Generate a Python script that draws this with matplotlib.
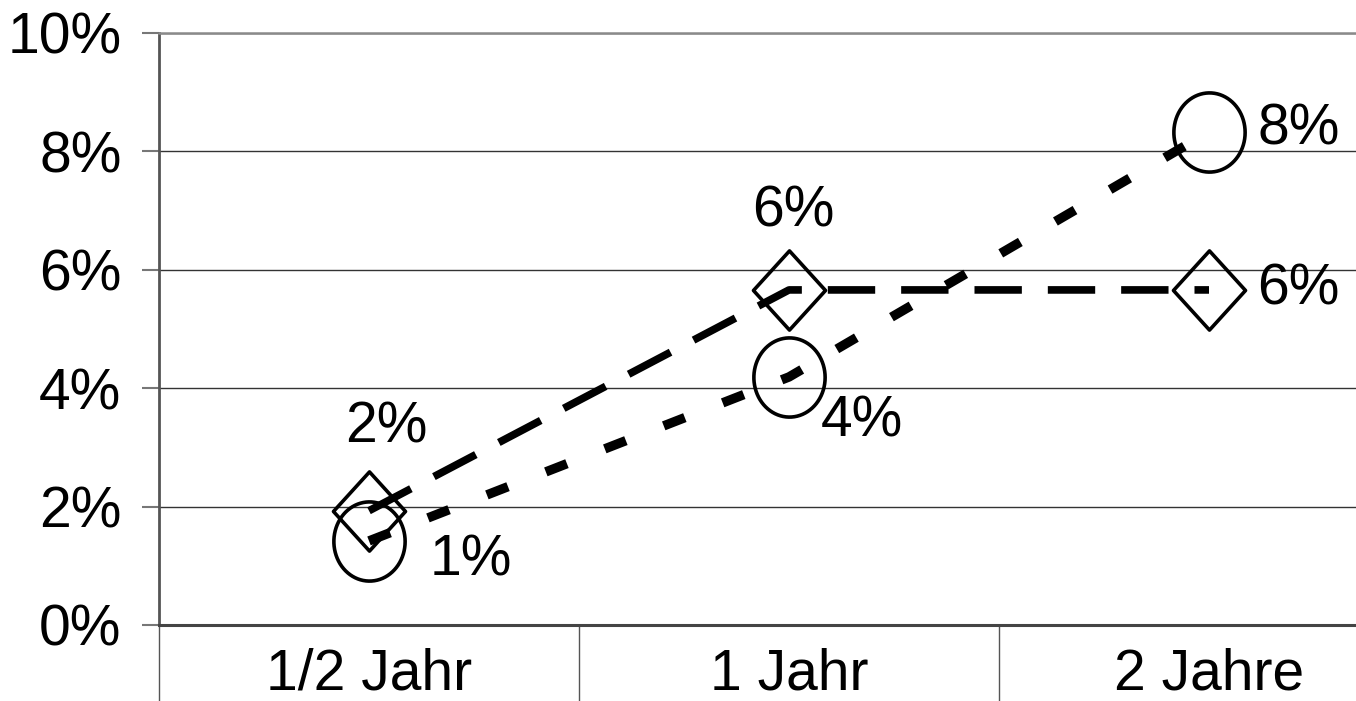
import numpy as np
import matplotlib.pyplot as plt
from matplotlib.path import Path
from matplotlib.ticker import FixedLocator

plt.rcParams['font.family'] = ['Liberation Sans', 'DejaVu Sans']

# categories and the two series (percent)
categories = ['1/2 Jahr', '1 Jahr', '2 Jahre']
diamond_vals = [1.93, 5.66, 5.66]
circle_vals = [1.42, 4.19, 8.33]

# data label offsets in pixels (dx, dy)
diamond_offsets = [(17, 83), (4, 78), (89, 0)]
circle_offsets = [(102, -20), (73, -45), (90, 2)]

# slightly tall markers: diamond and ellipse outlines
diamond_marker = Path([(0, 1), (0.91, 0), (0, -1), (-0.91, 0), (0, 1)], closed=True)
t = np.linspace(0, 2 * np.pi, 80)
ellipse_marker = Path(np.column_stack([0.9 * np.cos(t), np.sin(t)]), closed=True)

fig = plt.figure(figsize=(13.56, 7.01), dpi=100)
ax = fig.add_axes([159 / 1356, 76 / 701, 1260 / 1356, 592 / 701])

x = np.arange(len(categories))

ax.plot(x, diamond_vals, color='black', lw=5.5, dashes=(6.2, 3.4),
        marker=diamond_marker, ms=57, mfc='none', mec='black', mew=2.6, zorder=3)
ax.plot(x, circle_vals, color='black', lw=6.8, dashes=(2.4, 4.3),
        marker=ellipse_marker, ms=57, mfc='none', mec='black', mew=2.6, zorder=4)

px = 72 / fig.dpi
for xi, v, (dx, dy) in zip(x, diamond_vals, diamond_offsets):
    ax.annotate(f'{v:.0f}%', (xi, v), xytext=(dx * px, dy * px), textcoords='offset points',
                ha='center', va='center', fontsize=41)
for xi, v, (dx, dy) in zip(x, circle_vals, circle_offsets):
    ax.annotate(f'{v:.0f}%', (xi, v), xytext=(dx * px, dy * px), textcoords='offset points',
                ha='center', va='center', fontsize=41)

ax.set_xlim(-0.5, 2.5)
ax.set_ylim(0, 10)
ax.set_yticks(np.arange(0, 11, 2))
ax.set_yticklabels([f'{v}%' for v in range(0, 11, 2)])
ax.set_xticks(x)
ax.set_xticklabels(categories)
ax.xaxis.set_minor_locator(FixedLocator([-0.5, 0.5, 1.5, 2.5]))

ax.tick_params(axis='y', length=12, width=1.5, color='#777777', pad=15, labelsize=41)
ax.tick_params(axis='x', which='major', length=0, pad=16, labelsize=41)
ax.tick_params(axis='x', which='minor', length=60, width=1, color='#555555')

ax.yaxis.grid(True, color='#333333', lw=1)
ax.set_axisbelow(True)

ax.spines['top'].set_color('#8a8a8a')
ax.spines['top'].set_linewidth(1.8)
ax.spines['right'].set_visible(False)
ax.spines['left'].set_color('#555555')
ax.spines['left'].set_linewidth(2)
ax.spines['bottom'].set_color('#444444')
ax.spines['bottom'].set_linewidth(2.2)

for s in ax.spines.values():
    s.set_zorder(2)

fig.savefig('out.png', dpi=100)
